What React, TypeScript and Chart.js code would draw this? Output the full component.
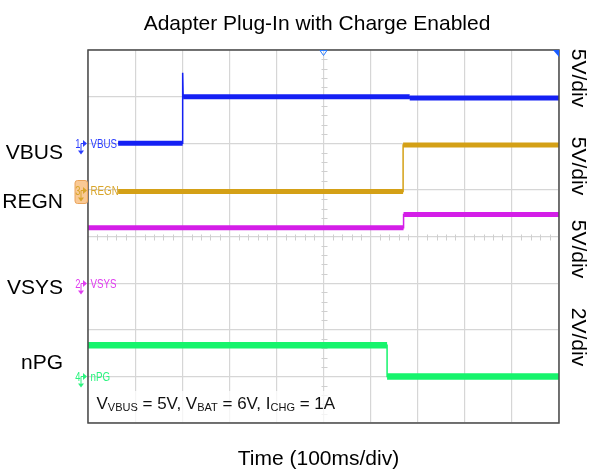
import React, { useEffect, useRef } from "react";
import { Chart, registerables } from "chart.js";

Chart.register(...registerables);

// ---------- data (time in divisions of 100 ms, level in screen divisions from bottom) ----------
const TITLE = "Adapter Plug-In with Charge Enabled";
const X_LABEL = "Time (100ms/div)";
const X_DIVS = 10;
const Y_DIVS = 8;

const vbusTime = [0.64, 2.01, 2.01, 2.02, 6.83, 6.83, 10];
const vbusLevel = [6.0, 6.0, 7.51, 7.0, 7.0, 6.97, 6.97];

const regnTime = [0.64, 6.69, 6.69, 10];
const regnLevel = [4.965, 4.965, 5.96, 5.96];

const vsysTime = [0, 6.7, 6.7, 10];
const vsysLevel = [4.19, 4.19, 4.47, 4.47];

const npgTime = [0, 6.35, 6.35, 10];
const npgLevel = [1.67, 1.67, 1.0, 1.0];

const channelNames = ["VBUS", "REGN", "VSYS", "nPG"];
const channelNumbers = ["1", "3", "2", "4"];
const channelGroundLevel = [6.0, 5.0, 3.0, 1.0];
const scaleLabels = ["5V/div", "5V/div", "5V/div", "2V/div"];
const noteParts: [string, boolean][] = [
  ["V", false],
  ["VBUS", true],
  [" = 5V, V", false],
  ["BAT", true],
  [" = 6V, I", false],
  ["CHG", true],
  [" = 1A", false],
];

// ---------- styles ----------
const traceColors = ["#1420f4", "#d4a016", "#d41ee8", "#16f46c"];
const labelColors = ["#2a3cff", "#d9a52a", "#e03cf0", "#2af47e"];
const traceWidths = [5, 5, 5, 6.5];
const FONT = "'Liberation Sans', Arial, Helvetica, sans-serif";

const sideLabelBaselines = [158.5, 207.5, 294, 368.5];
const scaleLabelCenters = [78, 166, 249, 337];

function pts(t: number[], v: number[]) {
  return t.map((x, i) => ({ x, y: v[i] }));
}

function narrowText(ctx: CanvasRenderingContext2D, s: string, x: number, y: number, size: number, align: "left" | "right") {
  ctx.save();
  ctx.font = `${size}px ${FONT}`;
  ctx.textAlign = align;
  ctx.translate(x, y);
  ctx.scale(0.78, 1);
  ctx.fillText(s, 0, 0);
  ctx.restore();
}

const overlay = {
  id: "scopeOverlay",
  beforeDatasetsDraw(chart: any) {
    const { ctx, scales } = chart;
    const x = scales.x;
    const y = scales.y;
    const cx = Math.round(x.getPixelForValue(X_DIVS / 2)) + 0.5;
    const cy = Math.round(y.getPixelForValue(Y_DIVS / 2)) + 0.5;
    ctx.save();
    ctx.strokeStyle = "#cfcfcf";
    ctx.lineWidth = 1;
    ctx.beginPath();
    for (let i = 1; i < X_DIVS * 5; i++) {
      if (i % 5 === 0) continue;
      const px = Math.round(x.getPixelForValue(i / 5)) + 0.5;
      ctx.moveTo(px, cy - 3);
      ctx.lineTo(px, cy + 3);
    }
    for (let j = 1; j < Y_DIVS * 5; j++) {
      if (j % 5 === 0) continue;
      const py = Math.round(y.getPixelForValue(j / 5)) + 0.5;
      ctx.moveTo(cx - 3, py);
      ctx.lineTo(cx + 3, py);
    }
    ctx.stroke();
    ctx.restore();
  },
  afterDatasetsDraw(chart: any) {
    const { ctx, chartArea: a } = chart;
    ctx.save();
    ctx.fillStyle = "rgba(255,255,255,0.75)";
    ctx.fillRect(a.left + 2, 391, 256, a.bottom - 392);
    let px = 96.5;
    ctx.fillStyle = "#111";
    ctx.textAlign = "left";
    ctx.textBaseline = "alphabetic";
    for (const [s, sub] of noteParts) {
      ctx.font = sub ? `11px ${FONT}` : `17px ${FONT}`;
      ctx.fillText(s, px, sub ? 410.5 : 408.5);
      px += ctx.measureText(s).width;
    }
    ctx.restore();
  },
  afterDraw(chart: any) {
    const { ctx, chartArea: a, scales } = chart;
    const y = scales.y;
    ctx.save();
    ctx.strokeStyle = "#4a4a4a";
    ctx.lineWidth = 1.5;
    ctx.strokeRect(a.left, a.top, a.right - a.left, a.bottom - a.top);

    const tx = scales.x.getPixelForValue(X_DIVS / 2);
    ctx.strokeStyle = "#2a7cff";
    ctx.lineWidth = 1;
    ctx.beginPath();
    ctx.moveTo(tx - 3.5, a.top + 0.5);
    ctx.lineTo(tx + 3.5, a.top + 0.5);
    ctx.lineTo(tx, a.top + 5.5);
    ctx.closePath();
    ctx.stroke();
    ctx.fillStyle = "#1a5cff";
    ctx.beginPath();
    ctx.moveTo(a.right - 6, a.top);
    ctx.lineTo(a.right, a.top);
    ctx.lineTo(a.right, a.top + 7);
    ctx.closePath();
    ctx.fill();

    const L = a.left;
    channelNames.forEach((name, i) => {
      const yp = Math.round(y.getPixelForValue(channelGroundLevel[i])) + 0.5;
      const col = labelColors[i];
      if (i === 1) {
        ctx.fillStyle = "#f9c995";
        ctx.strokeStyle = "#eaa45c";
        ctx.lineWidth = 1;
        ctx.beginPath();
        (ctx as any).roundRect(L - 13, yp - 10, 12.5, 23, 2.5);
        ctx.fill();
        ctx.stroke();
      }
      ctx.fillStyle = col;
      ctx.strokeStyle = col;
      ctx.textBaseline = "alphabetic";
      narrowText(ctx, channelNumbers[i], L - 7.5, yp + 4.5, 12, "right");
      ctx.lineWidth = 1;
      ctx.beginPath();
      ctx.moveTo(L - 7, yp);
      ctx.lineTo(L - 5, yp);
      ctx.moveTo(L - 7, yp);
      ctx.lineTo(L - 7, yp + 7);
      ctx.stroke();
      ctx.beginPath();
      ctx.moveTo(L - 5, yp - 3.5);
      ctx.lineTo(L - 1, yp);
      ctx.lineTo(L - 5, yp + 3.5);
      ctx.closePath();
      ctx.fill();
      ctx.beginPath();
      ctx.moveTo(L - 10, yp + 7);
      ctx.lineTo(L - 4, yp + 7);
      ctx.lineTo(L - 7, yp + 11);
      ctx.closePath();
      ctx.fill();
      narrowText(ctx, name, L + 2.5, yp + 4.5, 12.5, "left");
    });

    ctx.fillStyle = "#000";
    ctx.font = `21px ${FONT}`;
    ctx.textAlign = "center";
    ctx.textBaseline = "alphabetic";
    ctx.fillText(TITLE, 317, 30);
    ctx.fillText(X_LABEL, 318.5, 465);

    ctx.textAlign = "right";
    channelNames.forEach((name, i) => {
      ctx.fillText(name, 63, sideLabelBaselines[i]);
    });

    ctx.textAlign = "center";
    scaleLabels.forEach((s, i) => {
      ctx.save();
      ctx.translate(572, scaleLabelCenters[i]);
      ctx.rotate(Math.PI / 2);
      ctx.fillText(s, 0, 0);
      ctx.restore();
    });
    ctx.restore();
  },
};

function traceDatasets(t: number[], v: number[], color: string, width: number) {
  const data = pts(t, v);
  return [
    {
      data,
      borderColor: color,
      borderWidth: width,
      pointRadius: 0,
      tension: 0,
      segment: {
        borderColor: (c: any) =>
          Math.abs(c.p0.parsed.y - c.p1.parsed.y) < 1e-9 ? color : "rgba(0,0,0,0)",
      },
    },
    {
      data,
      borderColor: color,
      borderWidth: 1.5,
      pointRadius: 0,
      tension: 0,
    },
  ];
}

export default function App() {
  const ref = useRef<HTMLCanvasElement | null>(null);
  useEffect(() => {
    if (!ref.current) return;
    const chart = new Chart(ref.current, {
      type: "line",
      data: {
        datasets: [
          ...traceDatasets(npgTime, npgLevel, traceColors[3], traceWidths[3]),
          ...traceDatasets(vsysTime, vsysLevel, traceColors[2], traceWidths[2]),
          ...traceDatasets(regnTime, regnLevel, traceColors[1], traceWidths[1]),
          ...traceDatasets(vbusTime, vbusLevel, traceColors[0], traceWidths[0]),
        ],
      },
      options: {
        animation: false,
        responsive: false,
        events: [],
        layout: { padding: { left: 88, right: 31, top: 50, bottom: 47 } },
        plugins: { legend: { display: false }, title: { display: false }, tooltip: { enabled: false } },
        scales: {
          x: {
            type: "linear",
            min: 0,
            max: X_DIVS,
            ticks: { display: false, stepSize: 1 },
            grid: { color: "#d6d6d6", lineWidth: 1.2, drawTicks: false },
            border: { display: false },
          },
          y: {
            type: "linear",
            min: 0,
            max: Y_DIVS,
            ticks: { display: false, stepSize: 1 },
            grid: { color: "#d6d6d6", lineWidth: 1.2, drawTicks: false },
            border: { display: false },
          },
        },
      },
      plugins: [overlay],
    } as any);
    return () => chart.destroy();
  }, []);
  return (
    <div style={{ position: "absolute", left: 0, top: 0, width: 590, height: 470, background: "#fff" }}>
      <canvas ref={ref} width={590} height={470} style={{ display: "block" }} />
    </div>
  );
}
